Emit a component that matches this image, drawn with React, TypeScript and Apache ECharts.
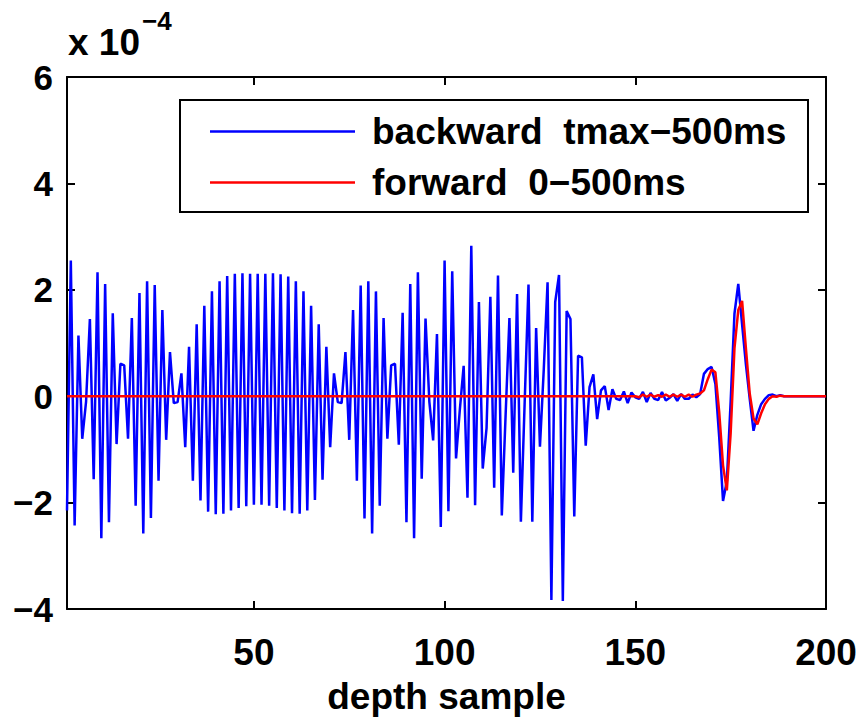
import React, { useEffect, useRef } from "react";
import * as echarts from "echarts";

// values in units of 1e-4
const backward: number[] = [
  -2.15, 2.55, -2.43, 1.14, -0.8, -0.1, 1.45, -1.56, 2.33, -2.67,
  2.11, -2.37, 1.56, -0.9, 0.61, 0.58, -0.8, 1.47, -2.06, 1.94,
  -2.58, 2.16, -2.29, 2.09, -1.59, 1.62, -0.82, 0.83, -0.13, -0.11,
  0.43, -0.96, 0.93, -1.59, 1.35, -1.96, 1.7, -2.17, 1.97, -2.22,
  2.16, -2.21, 2.26, -2.15, 2.3, -2.1, 2.31, -2.07, 2.3, -2.04,
  2.3, -2.04, 2.3, -2.06, 2.31, -2.1, 2.29, -2.15, 2.25, -2.2,
  2.16, -2.21, 1.97, -2.15, 1.7, -1.95, 1.35, -1.57, 0.93, -0.96,
  0.43, -0.11, -0.13, 0.83, -0.82, 1.62, -1.59, 2.08, -2.3, 2.16,
  -2.58, 1.97, -2.06, 1.47, -0.8, 0.58, 0.61, -0.91, 1.57, -2.37,
  2.11, -2.67, 2.33, -1.55, 1.46, -0.1, -0.83, 1.17, -2.46, 2.55,
  -2.16, 2.35, -1.17, -0.25, 0.57, -1.91, 2.83, -2.05, 1.77, -1.36,
  -0.6, 1.87, -1.72, 2.27, -2.24, -0.35, 1.47, -1.44, 1.92, -2.36,
  -0.1, 2.1, -2.36, 1.28, -0.95, 0.5, 2.14, -3.83, 1.77, 2.28,
  -3.85, 1.6, 1.45, -2.26, 0.76, 0.73, -0.93, 0.17, 0.41, -0.43,
  0.11, 0.19, -0.26, 0.13, -0.05, -0.07, 0.09, -0.13, 0.07, -0.02,
  -0.05, 0.08, -0.11, 0.06, -0.05, -0.07, 0.08, -0.08, -0.03, 0.04,
  -0.09, 0.04, -0.05, -0.05, 0.03, -0.02, 0.04, 0.42, 0.51, 0.55,
  0.23, -0.77, -1.97, -1.6, -0.1, 1.55, 2.11, 1.35, 0.6, -0.05,
  -0.65, -0.35, -0.15, -0.05, 0.02, 0.03, 0.0, 0.02, 0, 0,
  0, 0, 0, 0, 0, 0, 0, 0, 0, 0,
];

const forward: number[] = [
  0, 0, 0, 0, 0, 0, 0, 0, 0, 0,
  0, 0, 0, 0, 0, 0, 0, 0, 0, 0,
  0, 0, 0, 0, 0, 0, 0, 0, 0, 0,
  0, 0, 0, 0, 0, 0, 0, 0, 0, 0,
  0, 0, 0, 0, 0, 0, 0, 0, 0, 0,
  0, 0, 0, 0, 0, 0, 0, 0, 0, 0,
  0, 0, 0, 0, 0, 0, 0, 0, 0, 0,
  0, 0, 0, 0, 0, 0, 0, 0, 0, 0,
  0, 0, 0, 0, 0, 0, 0, 0, 0, 0,
  0, 0, 0, 0, 0, 0, 0, 0, 0, 0,
  0, 0, 0, 0, 0, 0, 0, 0, 0, 0,
  0, 0, 0, 0, 0, 0, 0, 0, 0, 0,
  0, 0, 0, 0, 0, 0, 0, 0, 0, 0,
  0, 0, 0, 0, 0, 0, 0, 0, 0, 0,
  0, 0, 0, 0, 0, 0, 0, 0, 0, 0,
  -0.02, 0.03, -0.01, 0.03, -0.01, 0.02, -0.01, 0.03, -0.01, 0.03,
  -0.01, 0.03, -0.01, 0.03, -0.01, 0.03, 0.05, 0.11, 0.32, 0.5,
  0.45, -0.3, -1.3, -1.77, -0.7, 0.9, 1.62, 1.79, 0.9, 0.05,
  -0.42, -0.53, -0.32, -0.15, -0.05, 0.0, -0.01, 0.01, 0, 0,
  0, 0, 0, 0, 0, 0, 0, 0, 0, 0,
];

const xTickValues = [50, 100, 150, 200];
const yTickLabels: Record<string, string> = {
  "-4": "\u22124",
  "-2": "\u22122",
  "0": "0",
  "2": "2",
  "4": "4",
  "6": "6",
};
const seriesNames = ["backward  tmax\u2212500ms", "forward  0\u2212500ms"];
const xAxisTitle = "depth sample";

const FONT = "Liberation Sans";

export default function App() {
  const ref = useRef<HTMLDivElement>(null);
  useEffect(() => {
    if (!ref.current) return;
    const chart = echarts.init(ref.current, undefined, { renderer: "svg" });
    const bData = backward.map((v, i) => [i + 1, v]);
    const fData = forward.map((v, i) => [i + 1, v]);
    const labelStyle = {
      color: "#000",
      fontFamily: FONT,
      fontWeight: "bold" as const,
      fontSize: 37,
    };
    const axisLine = { show: true, onZero: false, lineStyle: { color: "#000", width: 2 } };
    chart.setOption({
      animation: false,
      backgroundColor: "#fff",
      grid: {
        left: 67,
        right: 36,
        top: 77,
        bottom: 109,
        containLabel: false,
        outerBoundsMode: "none",
      },
      xAxis: [
        {
          type: "value",
          min: 1,
          max: 200,
          position: "bottom",
          axisLine,
          axisTick: {
            show: true,
            inside: true,
            length: 8,
            customValues: xTickValues,
            lineStyle: { color: "#000", width: 2 },
          },
          axisLabel: {
            ...labelStyle,
            margin: 25,
            customValues: xTickValues,
            hideOverlap: false,
            showMinLabel: true,
            showMaxLabel: true,
          },
          splitLine: { show: false },
          name: xAxisTitle,
          nameLocation: "middle",
          nameGap: 69,
          nameTextStyle: { ...labelStyle },
        },
        {
          type: "value",
          min: 1,
          max: 200,
          position: "top",
          axisLine,
          axisTick: {
            show: true,
            inside: true,
            length: 8,
            customValues: xTickValues,
            lineStyle: { color: "#000", width: 2 },
          },
          axisLabel: { show: false },
          splitLine: { show: false },
        },
      ],
      yAxis: [
        {
          type: "value",
          min: -4,
          max: 6,
          interval: 2,
          position: "left",
          axisLine,
          axisTick: { show: true, inside: true, length: 8, lineStyle: { color: "#000", width: 2 } },
          axisLabel: {
            ...labelStyle,
            fontSize: 35,
            margin: 14,
            formatter: (v: number) => yTickLabels[String(v)] ?? String(v),
          },
          splitLine: { show: false },
        },
        {
          type: "value",
          min: -4,
          max: 6,
          interval: 2,
          position: "right",
          axisLine,
          axisTick: { show: true, inside: true, length: 8, lineStyle: { color: "#000", width: 2 } },
          axisLabel: { show: false },
          splitLine: { show: false },
        },
      ],
      legend: {
        show: true,
        orient: "vertical",
        left: 210,
        top: 113,
        padding: 0,
        itemGap: 14,
        itemWidth: 145,
        itemHeight: 2.5,
        icon: "rect",
        z: 6,
        textStyle: {
          ...labelStyle,
          lineHeight: 36,
          padding: [0, 0, 0, 12],
        },
        data: seriesNames.map((n) => ({ name: n, icon: "rect" })),
      },
      graphic: [
        {
          type: "rect",
          z: 5,
          shape: { x: 180, y: 100, width: 628, height: 112 },
          style: { fill: "#fff", stroke: "#000", lineWidth: 2 },
        },
        {
          type: "text",
          x: 68,
          y: 42,
          style: {
            text: "x 10",
            fill: "#000",
            font: `bold 37px "${FONT}"`,
            align: "left",
            verticalAlign: "middle",
          },
        },
        {
          type: "text",
          x: 142,
          y: 21,
          style: {
            text: "\u22124",
            fill: "#000",
            font: `bold 26px "${FONT}"`,
            align: "left",
            verticalAlign: "middle",
          },
        },
      ],
      series: [
        {
          name: seriesNames[0],
          type: "line",
          xAxisIndex: 0,
          yAxisIndex: 0,
          data: bData,
          symbol: "none",
          color: "#0000ff",
          lineStyle: { color: "#0000ff", width: 2.5 },
          z: 2,
        },
        {
          name: seriesNames[1],
          type: "line",
          xAxisIndex: 0,
          yAxisIndex: 0,
          data: fData,
          symbol: "none",
          color: "#ff0000",
          lineStyle: { color: "#ff0000", width: 2.5 },
          z: 3,
        },
      ],
    });
    return () => chart.dispose();
  }, []);
  return (
    <div
      ref={ref}
      style={{ position: "absolute", left: 0, top: 0, width: 862, height: 718, background: "#fff" }}
    />
  );
}
